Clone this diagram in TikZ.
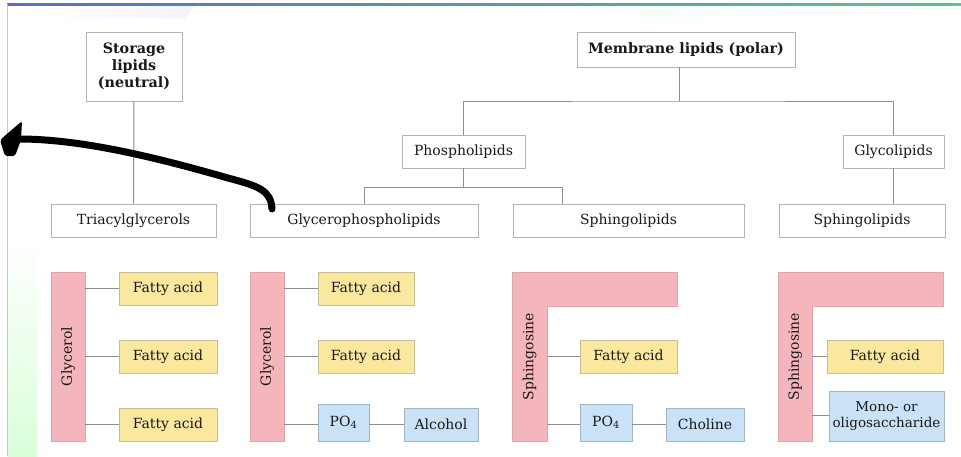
\documentclass[tikz,border=0pt]{standalone}
\usepackage{fontspec}
\setmainfont{DejaVu Serif}
\usetikzlibrary{arrows.meta}
\definecolor{pinkc}{HTML}{F4B6BC}
\definecolor{pinkbord}{HTML}{E3A3AA}
\definecolor{yel}{HTML}{FAE89E}
\definecolor{yelbord}{HTML}{C8BE96}
\definecolor{bluec}{HTML}{C9E2F5}
\definecolor{bluebord}{HTML}{9FB6C8}
\definecolor{boxgray}{HTML}{B4B4B4}
\definecolor{linegray}{HTML}{8E8E8E}
\definecolor{barblue}{HTML}{5A6CC4}
\definecolor{barteal}{HTML}{4FA3A0}
\definecolor{bargreen}{HTML}{5CC38A}
\tikzset{
  txt/.style={font=\fontsize{14}{17}\selectfont, text=black!90},
  wbox/.style={txt, draw=boxgray, line width=0.8pt, fill=white, inner sep=0pt, align=center},
  conn/.style={draw=linegray, line width=1pt},
  fabox/.style={txt, draw=yelbord, fill=yel, line width=0.6pt, inner sep=0pt, minimum height=33pt},
  bbox/.style={txt, draw=bluebord, fill=bluec, line width=0.6pt, inner sep=0pt, align=center},
  pbar/.style={fill=pinkc, draw=pinkbord, line width=0.5pt, inner sep=0pt, minimum width=34pt, minimum height=169pt},
  ghost/.style={inner sep=0pt, minimum width=35pt, minimum height=169pt},
  vlbl/.style={txt, rotate=90, inner sep=0pt}
}
\begin{document}
\begin{tikzpicture}[x=1pt,y=-1pt]
\useasboundingbox (0,0) rectangle (961,456);
% background
\fill[white] (0,0) rectangle (961,456);
\shade[left color=white, right color=blue!5] (45,6) -- (195,6) -- (185,18) -- (45,18) -- cycle;
\shade[left color=green!3, right color=white] (640,6) rectangle (900,16);
\shade[left color=barblue, middle color=barteal, right color=bargreen] (7,3) rectangle (961,5.8);
\shade[top color=white, bottom color=green!15] (8,240) rectangle (37,456);
\draw[gray!45, line width=0.8pt] (7,4) -- (7,456);

% top tree
\node[wbox, font=\fontsize{14.3}{17}\selectfont\bfseries, minimum width=96pt, minimum height=69pt] (stor) at (134,66.5) {Storage\\lipids\\(neutral)};
\node[wbox, font=\fontsize{14.3}{17}\selectfont\bfseries, minimum width=218pt, minimum height=35pt] (memb) at (686,49.5) {Membrane lipids (polar)};
\node[wbox, minimum width=123pt, minimum height=33pt] (phos) at (463.5,151.5) {Phospholipids};
\node[wbox, minimum width=101pt, minimum height=33pt] (glyc) at (893.5,151.5) {Glycolipids};
\node[wbox, minimum width=165pt, minimum height=33pt] (tri) at (133.5,220.5) {Triacylglycerols};
\node[wbox, minimum width=228pt, minimum height=33pt] (gpl) at (364,220.5) {Glycerophospholipids};
\node[wbox, minimum width=231pt, minimum height=33pt] (sph1) at (628.5,220.5) {Sphingolipids};
\node[wbox, minimum width=166pt, minimum height=33pt] (sph2) at (862,220.5) {Sphingolipids};

\draw[conn] (stor.south) -- (tri.north);
\coordinate (mj) at (679,101);
\draw[conn] (memb.south -| mj) -- (mj);
\draw[conn] (phos.north) |- (mj) -| (glyc.north);
\coordinate (pj) at (463.5,187);
\coordinate (sj) at (562,187);
\draw[conn] (phos.south) -- (pj);
\draw[conn] (gpl.north) |- (sj) -- (sj |- sph1.north);
\draw[conn] (glyc.south) -- (glyc.south |- sph2.north);

% panel 1: triacylglycerol
\node[pbar] (bar1) at (68,356.5) {};
\node[vlbl] (bar1t) at (bar1.center) {Glycerol};
\node[fabox, minimum width=98pt] (fa11) at (168,288.5) {Fatty acid};
\node[fabox, minimum width=98pt] (fa12) at (168,356.5) {Fatty acid};
\node[fabox, minimum width=98pt] (fa13) at (168,424.5) {Fatty acid};
\draw[conn] (bar1.east |- fa11.west) -- (fa11.west);
\draw[conn] (bar1.east |- fa12.west) -- (fa12.west);
\draw[conn] (bar1.east |- fa13.west) -- (fa13.west);

% panel 2: glycerophospholipid
\node[pbar] (bar2) at (267,356.5) {};
\node[vlbl] (bar2t) at (bar2.center) {Glycerol};
\node[fabox, minimum width=96pt] (fa21) at (366,288.5) {Fatty acid};
\node[fabox, minimum width=96pt] (fa22) at (366,356.5) {Fatty acid};
\node[bbox, minimum width=51pt, minimum height=37pt] (po1) at (343.5,422.5) {PO\textsubscript{4}};
\node[bbox, minimum width=74pt, minimum height=33pt] (alc) at (441,424.5) {Alcohol};
\draw[conn] (bar2.east |- fa21.west) -- (fa21.west);
\draw[conn] (bar2.east |- fa22.west) -- (fa22.west);
\draw[conn] (bar2.east |- alc.west) -- (po1.west |- alc.west);
\draw[conn] (po1.east |- alc.west) -- (alc.west);

% panel 3: sphingomyelin
\filldraw[fill=pinkc, draw=pinkbord, line width=0.5pt] (512,272) -- (677,272) -- (677,306) -- (547,306) -- (547,441) -- (512,441) -- cycle;
\node[ghost] (sb1) at (529.5,356.5) {};
\node[vlbl] (sb1t) at (sb1.center) {Sphingosine};
\node[fabox, minimum width=97pt] (fa31) at (628.5,356.5) {Fatty acid};
\node[bbox, minimum width=52pt, minimum height=37pt] (po2) at (606,422.5) {PO\textsubscript{4}};
\node[bbox, minimum width=78pt, minimum height=33pt] (chol) at (705,424.5) {Choline};
\draw[conn] (sb1.east |- fa31.west) -- (fa31.west);
\draw[conn] (sb1.east |- chol.west) -- (po2.west |- chol.west);
\draw[conn] (po2.east |- chol.west) -- (chol.west);

% panel 4: glycosphingolipid
\filldraw[fill=pinkc, draw=pinkbord, line width=0.5pt] (778,272) -- (943,272) -- (943,306) -- (812,306) -- (812,441) -- (778,441) -- cycle;
\node[ghost, minimum width=34pt] (sb2) at (795,356.5) {};
\node[vlbl] (sb2t) at (sb2.center) {Sphingosine};
\node[fabox, minimum width=116pt] (fa41) at (885,356.5) {Fatty acid};
\node[bbox, minimum width=115pt, minimum height=50pt, font=\fontsize{13.5}{16}\selectfont] (mono) at (886.5,416) {Mono- or\\oligosaccharide};
\draw[conn] (sb2.east |- 0,415) -- (mono.west |- 0,415);
\draw[conn] (sb2.east |- fa41.west) -- (fa41.west);

% hand-drawn arrow
\coordinate (atail) at (272,209);
\coordinate (ahead) at (19,139);
\draw[line width=7pt, line cap=round, line join=round] (atail) .. controls (271,190) and (258,186) .. (228,178) .. controls (165,160) and (85,139) .. (ahead);
\fill[rounded corners=2.5pt] (22,121) -- (0,140) -- (5,156) -- (15,156) -- (21,140) -- cycle;
\end{tikzpicture}
\end{document}
